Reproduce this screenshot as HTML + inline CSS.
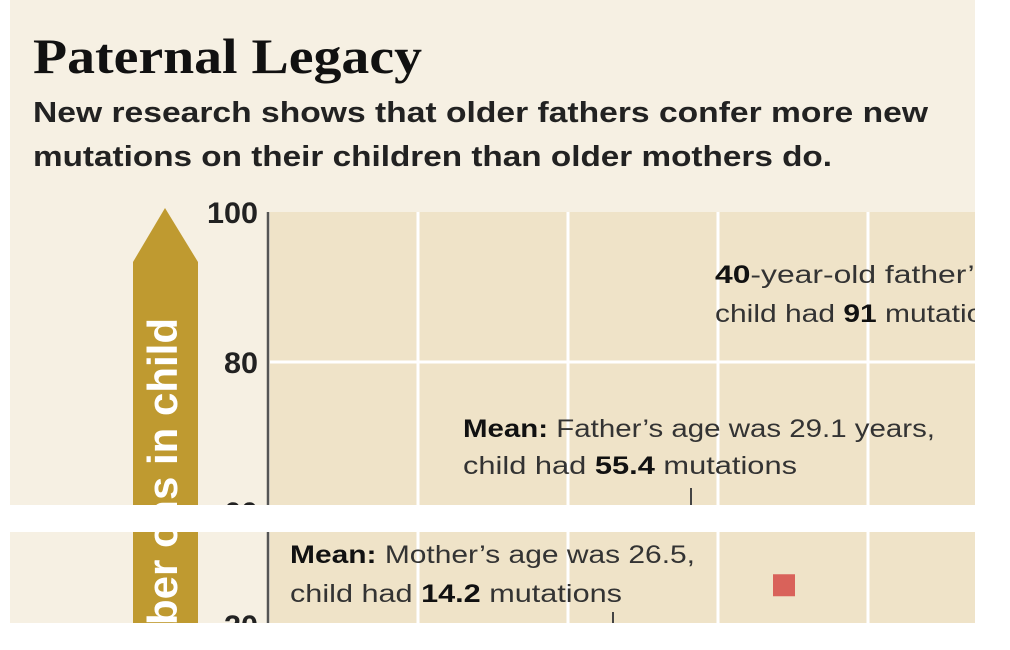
<!DOCTYPE html>
<html><head><meta charset="utf-8"><style>
html,body{margin:0;padding:0;background:#fff;width:1010px;height:650px;overflow:hidden}
svg{display:block;overflow:hidden}
.sans{font-family:"Liberation Sans",sans-serif}
</style></head><body>
<svg id="chart" width="1010" height="650" viewBox="0 0 1010 650">
<defs>
<clipPath id="clipTop"><rect x="10" y="0" width="965" height="505"/></clipPath>
<clipPath id="clipBot"><rect x="10" y="532" width="965" height="91"/></clipPath>
</defs>
<g clip-path="url(#clipTop)">
<rect x="10" y="0" width="965" height="505" fill="#f6f0e3"/>
<text x="33" y="73" font-family="Liberation Serif,serif" font-weight="bold" font-size="50" textLength="389" lengthAdjust="spacingAndGlyphs" fill="#111">Paternal Legacy</text>
<text class="sans" x="33" y="122" font-weight="bold" font-size="29" textLength="895" lengthAdjust="spacingAndGlyphs" fill="#222">New research shows that older fathers confer more new</text>
<text class="sans" x="33" y="166" font-weight="bold" font-size="29" textLength="799" lengthAdjust="spacingAndGlyphs" fill="#222">mutations on their children than older mothers do.</text>
<g id="topPlot"></g>
</g>
<g clip-path="url(#clipBot)">
<rect x="10" y="532" width="965" height="91" fill="#f6f0e3"/>
<g id="botPlot"></g>
</g>
</svg>
<script>
const xTicks = [20, 25, 30, 35, 40];
const yTicksTop = [100, 80, 60];
const yTicksBot = [20];
const pointAges = [32.2];
const pointMutations = [25.3];
const fatherMean = [29.1, 55.4];
const motherMean = [26.5, 14.2];

const NS = 'http://www.w3.org/2000/svg';
function el(tag, attrs, parent, text){
  const e = document.createElementNS(NS, tag);
  for (const k in attrs) e.setAttribute(k, attrs[k]);
  if (text !== undefined) e.textContent = text;
  parent.appendChild(e);
  return e;
}
const xS = a => 718 + (a - 30) * 30;
const yTop = v => 212 + (100 - v) * 7.5;
const yBot = v => 625 - (v - 20) * 7.5;
const RIGHT = 975, AX = 268;

function drawArrow(g, top, bottom){
  const p = el('path', {d:`M133,${Math.max(top,262)} L165,208 L198,262 L198,${bottom} L133,${bottom} Z`, fill:'#bf9a30'}, g);
  
  
}
function tickLabel(g, v, y){
  const s = String(v);
  const t = el('text', {x:258, y:y+11, 'text-anchor':'end', 'font-family':'Liberation Sans,sans-serif', 'font-weight':'bold', 'font-size':30, fill:'#222', textLength:s.length*17, lengthAdjust:'spacingAndGlyphs'}, g, s);
  
  
}

// top panel
const gt = document.getElementById('topPlot');
const pt = el('rect', {x:270, y:212, width:RIGHT-270, height:300, fill:'#efe3c8'}, gt);


xTicks.forEach(a => {
  if (xS(a) <= 270 || xS(a) >= RIGHT) return;
  const l = el('line', {x1:xS(a), x2:xS(a), y1:212, y2:505, stroke:'#fff', 'stroke-width':3}, gt);
  
  
});
yTicksTop.forEach(v => {
  if (v < 100) {
    const l = el('line', {x1:270, x2:RIGHT, y1:yTop(v), y2:yTop(v), stroke:'#fff', 'stroke-width':3}, gt);
    
    
  }
  tickLabel(gt, v, yTop(v));
});
const axT = el('line', {x1:AX, x2:AX, y1:212, y2:505, stroke:'#555', 'stroke-width':2.5}, gt);


drawArrow(gt, 208, 505);
const at = el('text', {transform:'translate(177,318) rotate(-90)', 'text-anchor':'end', 'font-family':'Liberation Sans,sans-serif', 'font-weight':'bold', 'font-size':42, fill:'#fff'}, gt, 'mutations in child');



function note(g, x, y, parts, len, name){
  const t = el('text', {x:x, y:y, 'font-family':'Liberation Sans,sans-serif', 'font-size':25, fill:'#333', textLength:len, lengthAdjust:'spacingAndGlyphs'}, g);
  
  
  parts.forEach(p => { el('tspan', p[1] ? {'font-weight':'bold', fill:'#111'} : {}, t, p[0]); });
  return t;
}
note(gt, 715, 283, [['40',1],['-year-old father\u2019s',0]], 275, 'annotation-40yo-line-1');
note(gt, 715, 322, [['child had ',0],['91',1],[' mutations',0]], 300, 'annotation-40yo-line-2');
note(gt, 463, 437, [['Mean:',1],[' Father\u2019s age was '+fatherMean[0]+' years,',0]], 472, 'annotation-father-mean-line-1');
note(gt, 463, 474, [['child had ',0],[String(fatherMean[1]),1],[' mutations',0]], 334, 'annotation-father-mean-line-2');
const ft = el('line', {x1:xS(fatherMean[0]), x2:xS(fatherMean[0]), y1:488, y2:505, stroke:'#444', 'stroke-width':2}, gt);



// bottom panel
const gb = document.getElementById('botPlot');
const pb = el('rect', {x:270, y:532, width:RIGHT-270, height:91, fill:'#efe3c8'}, gb);


xTicks.forEach(a => {
  if (xS(a) <= 270 || xS(a) >= RIGHT) return;
  const l = el('line', {x1:xS(a), x2:xS(a), y1:532, y2:623, stroke:'#fff', 'stroke-width':3}, gb);
  
  
});
yTicksBot.forEach(v => tickLabel(gb, v, yBot(v)));
const axB = el('line', {x1:AX, x2:AX, y1:532, y2:623, stroke:'#555', 'stroke-width':2.5}, gb);


drawArrow(gb, 532, 623);
const ab = el('text', {transform:'translate(177,625) rotate(-90)', 'font-family':'Liberation Sans,sans-serif', 'font-weight':'bold', 'font-size':42, fill:'#fff'}, gb, 'ber of');


note(gb, 290, 563, [['Mean:',1],[' Mother\u2019s age was '+motherMean[0]+',',0]], 405, 'annotation-mother-mean-line-1');
note(gb, 290, 602, [['child had ',0],[String(motherMean[1]),1],[' mutations',0]], 332, 'annotation-mother-mean-line-2');
const mt = el('line', {x1:xS(motherMean[0]), x2:xS(motherMean[0]), y1:612, y2:623, stroke:'#444', 'stroke-width':2}, gb);


pointAges.forEach((a, i) => {
  const r = el('rect', {x:xS(a)-11, y:yBot(pointMutations[i])-11, width:22, height:22, fill:'#d9625a'}, gb);
  
  
});
</script>
</body></html>
